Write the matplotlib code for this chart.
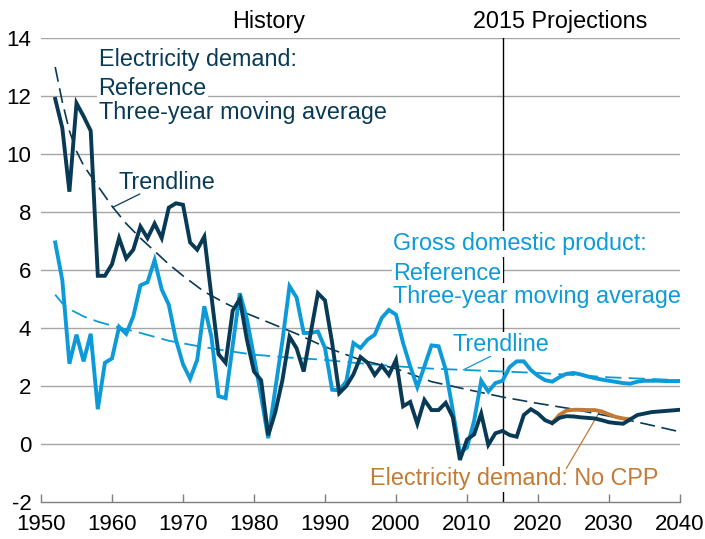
import matplotlib
matplotlib.use("Agg")
import matplotlib.pyplot as plt

plt.rcParams["font.family"] = ["Liberation Sans", "DejaVu Sans"]
plt.rcParams["axes.unicode_minus"] = False

# Annual growth rates, three-year moving averages (percent)
years = list(range(1952, 2041))
elec_demand = [
    11.9, 10.9, 8.7, 11.75, 11.3, 10.8, 5.8, 5.8, 6.2, 7.1,
    6.4, 6.7, 7.5, 7.1, 7.6, 7.1, 8.15, 8.3, 8.25, 6.95,
    6.7, 7.15, 5.1, 3.1, 2.8, 4.6, 5.0, 3.6, 2.5, 2.2,
    0.3, 1.1, 2.2, 3.7, 3.3, 2.5, 3.85, 5.2, 4.95, 3.5,
    1.75, 2.0, 2.4, 3.0, 2.8, 2.38, 2.7, 2.38, 2.9, 1.3,
    1.45, 0.7, 1.52, 1.17, 1.17, 1.42, 0.92, -0.55, 0.15, 0.33,
    1.05, -0.03, 0.37, 0.45, 0.31, 0.25, 1.0, 1.2, 1.05, 0.82,
    0.72, 0.9, 0.96, 0.95, 0.92, 0.9, 0.88, 0.82, 0.75, 0.72,
    0.7, 0.85, 1.0, 1.05, 1.1, 1.12, 1.14, 1.16, 1.18,
]
gdp = [
    6.95, 5.65, 2.77, 3.77, 2.85, 3.8, 1.2, 2.8, 2.95, 4.04,
    3.8, 4.4, 5.47, 5.58, 6.34, 5.33, 4.8, 3.6, 2.75, 2.25,
    2.9, 4.75, 3.7, 1.65, 1.58, 3.4, 5.2, 4.3, 3.0, 1.65,
    0.2, 1.9, 3.55, 5.44, 5.05, 3.83, 3.83, 3.88, 3.31, 1.87,
    1.85, 2.16, 3.48, 3.31, 3.6, 3.77, 4.35, 4.62, 4.46, 3.48,
    2.68, 1.96, 2.68, 3.4, 3.37, 2.56, 1.15, -0.3, -0.12, 0.8,
    2.18, 1.81, 2.1, 2.18, 2.65, 2.85, 2.85, 2.55, 2.35, 2.2,
    2.15, 2.3, 2.42, 2.45, 2.4, 2.33, 2.27, 2.22, 2.18, 2.14,
    2.1, 2.08, 2.15, 2.18, 2.18, 2.18, 2.17, 2.17, 2.17,
]

no_cpp_years = list(range(2022, 2034))
elec_no_cpp = [0.72, 1.0, 1.15, 1.18, 1.18, 1.17, 1.17, 1.12, 1.02, 0.93, 0.88, 0.85]

# Trendlines
elec_trend_years = [1952, 1953, 1954, 1955, 1956, 1958, 1960, 1962, 1964, 1966,
                    1968, 1970, 1973, 1976, 1979, 1982, 1986, 1990, 1995, 2000,
                    2005, 2010, 2015, 2020, 2025, 2030, 2035, 2040]
elec_trend = [13.0, 11.8, 10.8, 10.1, 9.6, 8.9, 8.2, 7.6, 7.1, 6.65,
              6.2, 5.8, 5.25, 4.85, 4.5, 4.2, 3.8, 3.35, 2.9, 2.6,
              2.15, 1.88, 1.62, 1.4, 1.2, 0.96, 0.7, 0.42]
gdp_trend_years = [1952, 1953, 1954, 1956, 1958, 1960, 1964, 1968, 1972, 1976,
                   1980, 1985, 1990, 1995, 2000, 2005, 2010, 2015, 2020, 2025,
                   2030, 2035, 2040]
gdp_trend = [5.15, 4.85, 4.65, 4.4, 4.22, 4.08, 3.83, 3.56, 3.38, 3.22,
             3.08, 2.98, 2.9, 2.78, 2.68, 2.6, 2.55, 2.5, 2.45, 2.38,
             2.3, 2.25, 2.2]

DARK = "#083a56"
LIGHT = "#0c9ad8"
ORANGE = "#c27a35"
FS = 16
LABEL_FS = 16.8

fig = plt.figure(figsize=(7.05, 5.39), dpi=100)
ax = fig.add_axes([41 / 705, 1 - 502 / 539, (680 - 41) / 705, (502 - 38) / 539])
ax.set_xlim(1950, 2040)
ax.set_ylim(-2, 14)

for side in ["left", "right", "top"]:
    ax.spines[side].set_visible(False)
ax.spines["bottom"].set_color("#7f7f7f")
ax.spines["bottom"].set_linewidth(1.0)

ax.set_yticks(range(-2, 15, 2))
ax.set_xticks(range(1950, 2041, 10))
ax.tick_params(axis="y", length=0, pad=7, labelsize=FS)
ax.tick_params(axis="x", direction="in", length=6, width=1, color="#7f7f7f",
               pad=9, labelsize=FS)

for v in range(0, 15, 2):
    ax.axhline(v, color="#a6a6a6", lw=1.0, zorder=0.5)
ax.axvline(2015, color="black", lw=1.0, zorder=1)

dash = (0, (9, 4))
ax.plot(gdp_trend_years, gdp_trend, color=LIGHT, lw=1.3, ls=dash, zorder=3)
ax.plot(elec_trend_years, elec_trend, color=DARK, lw=1.2, ls=dash, zorder=3.1)
ax.plot(years, gdp, color=LIGHT, lw=2.8, zorder=4, solid_joinstyle="miter")
ax.plot(no_cpp_years, elec_no_cpp, color=ORANGE, lw=2.8, zorder=4.5)
ax.plot(years, elec_demand, color=DARK, lw=2.8, zorder=5, solid_joinstyle="miter")

box = dict(facecolor="white", edgecolor="none", pad=1.0)


def label(x, y, s, color, ha="left"):
    ax.text(x, y, s, color=color, fontsize=LABEL_FS, ha=ha, va="baseline",
            bbox=box, zorder=2)


label(1958.1, 13.03, "Electricity demand:", DARK)
label(1958.1, 12.05, "Reference", DARK)
label(1958.1, 11.19, "Three-year moving average", DARK)
label(1960.9, 8.79, "Trendline", DARK)
ax.plot([1963.9, 1960.1], [8.62, 8.16], color=DARK, lw=0.9, zorder=2.5)

label(1999.6, 6.68, "Gross domestic product:", LIGHT)
label(1999.6, 5.67, "Reference", LIGHT)
label(1999.6, 4.87, "Three-year moving average", LIGHT)
label(2007.9, 3.19, "Trendline", LIGHT)
ax.plot([2013.3, 2009.5], [3.02, 2.56], color=LIGHT, lw=0.9, zorder=2.5)

label(2016.6, -1.42, "Electricity demand: No CPP", ORANGE, ha="center")
ax.plot([2024.0, 2028.7], [-0.84, 1.12], color=ORANGE, lw=0.9, zorder=2.5)

ax.text(1982.0, 14.33, "History", fontsize=LABEL_FS, ha="center", va="baseline")
ax.text(2023.1, 14.33, "2015 Projections", fontsize=LABEL_FS, ha="center",
        va="baseline")

fig.savefig("out.png", dpi=100)
